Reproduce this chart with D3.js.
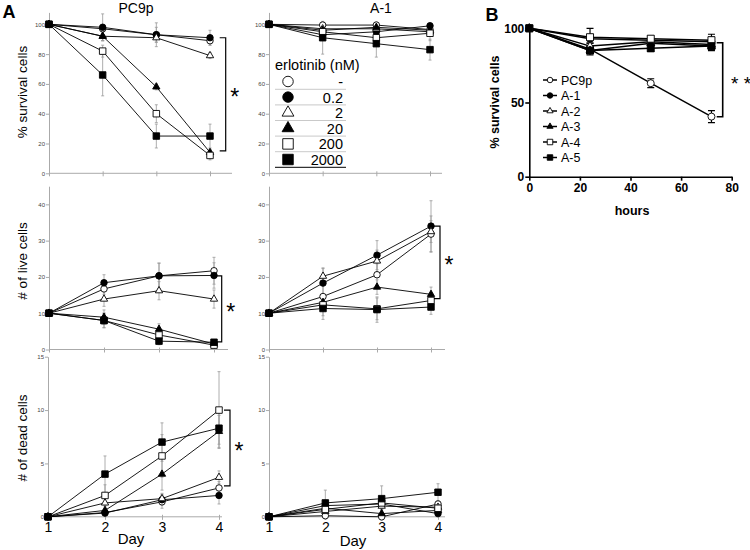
<!DOCTYPE html>
<html><head><meta charset="utf-8">
<script src="https://cdn.jsdelivr.net/npm/d3@7"></script>
<style>body{margin:0;background:#fff}svg{display:block;font-family:"Liberation Sans",Arial,Helvetica,sans-serif}</style>
</head><body><svg id="c" width="750" height="550"></svg>
<script>
// ---------- DATA ----------
const days = [1, 2, 3, 4];
const doses = ["-", "0.2", "2", "20", "200", "2000"];
// series order: -, 0.2, 2, 20, 200, 2000
const pc9pSurvival = [[100,97,93,89],[100,98,93,91],[100,92,91,79],[100,92,58,14],[100,82,40,12],[100,66,25,25]];
const pc9pSurvivalErr = [[0,3,5,3],[0,9,8,5],[0,3,3,2],[0,3,2,2],[0,4,6,3],[0,14,8,8]];
const a1Survival = [[100,99.5,99.5,96.5],[100,93,95,99],[100,97,97,95],[100,96,98,96],[100,95,91,94],[100,91,87,83]];
const a1SurvivalErr = [[0,2,2,2],[0,3,3,2],[0,2,2,2],[0,2,2,2],[0,3,3,5],[0,11,9,7]];
const pc9pLive = [[10,16.7,20.3,21.7],[10,18.4,20.3,20.4],[10,13.9,16.2,13.9],[10,8.9,5.6,1.5],[10,8,4,1.2],[10,8,2.3,2]];
const pc9pLiveErr = [[0,1.5,3.5,3.7],[0,2.2,3.5,3.5],[0,2,2.5,2.5],[0,2,1.5,0.5],[0,2,1.5,0.5],[0,2,1,0.5]];
const a1Live = [[10,14.6,20.6,31.8],[10,18.3,26,34],[10,20.2,24.4,32.5],[10,13,17.2,15.2],[10,12.3,11.2,13.5],[10,11.3,11,11.7]];
const a1LiveErr = [[0,3,3,5],[0,4,4,7],[0,2.3,3,3],[0,2,2,2],[0,3,3,2],[0,3,3.5,2]];
const pc9pDead = [[0,0.4,1.4,2.7],[0,0.35,1.6,2.0],[0,1.3,1.7,3.7],[0,0.6,4.0,8.0],[0,2.0,5.7,10.0],[0,4.0,7.0,8.3]];
const pc9pDeadErr = [[0,0.3,0.6,0.6],[0,0.3,0.5,0.8],[0,0.5,0.5,0.6],[0,0.5,1.5,1.5],[0,1,2,3.6],[0,1.7,1.8,1.5]];
const a1Dead = [[0,0.1,0.0,1.2],[0,1.05,1.2,0.3],[0,0.5,1.0,0.9],[0,0.8,0.3,0.6],[0,0.7,1.3,0.8],[0,1.3,1.7,2.3]];
const a1DeadErr = [[0,0.3,0.3,0.3],[0,0.5,0.5,0.3],[0,0.3,0.3,0.3],[0,0.3,0.3,0.3],[0,0.5,0.5,0.3],[0,1.2,1.2,0.8]];
const survTicks = [0,20,40,60,80,100];
const liveTicks = [0,10,20,30,40];
const deadTicks = [0,5,10,15];

const hours = [0, 24, 48, 72];
const lines = ["PC9p", "A-1", "A-2", "A-3", "A-4", "A-5"];
const bSurvival = [[100,86,63,40.5],[100,93,92,91],[100,88,91,89],[100,85,90,88],[100,94,93,92],[100,85,86.5,88]];
const bErr = [[0,2,3,4],[0,3,2,3],[0,2,2,2],[0,2,2,2],[0,6,2,4],[0,3,2,3]];
const hourTicks = [0,20,40,60,80];
const bYTicks = [0,50,100];

// ---------- DRAW ----------
const svg = d3.select("#c");
const FONT = '"Liberation Sans",Arial,Helvetica,sans-serif';
const shapes = [["circle",false],["circle",true],["triangle",false],["triangle",true],["square",false],["square",true]];
function sym(type, s){
  const t = type==="circle"?d3.symbolCircle:type==="triangle"?d3.symbolTriangle:d3.symbolSquare;
  const area = type==="circle"? Math.PI*(s/2)*(s/2) : type==="square"? s*s : 0.433*s*s*1.05;
  return d3.symbol().type(t).size(area)();
}
function drawMarker(g, cx, cy, idx, s){
  const [type, filled] = shapes[idx];
  g.append("path").attr("d", sym(type, type==="triangle"? s*1.1 : s))
    .attr("transform", `translate(${cx},${cy})`)
    .attr("fill", filled? "#000" : "#fff").attr("stroke", "#000").attr("stroke-width", 0.9);
}

function panelA(o){
  const x = d3.scaleLinear().domain([1,4]).range(o.xr);
  const y = d3.scaleLinear().domain(o.yd).range(o.yr);
  const g = svg.append("g");
  const ya = g.append("g").attr("transform", `translate(${o.xr[0]},0)`)
    .call(d3.axisLeft(y).tickValues(o.ticks).tickSize(3).tickSizeOuter(0).tickPadding(1));
  ya.select(".domain").attr("stroke", "#aaa");
  ya.selectAll(".tick line").attr("stroke", "#aaa");
  ya.selectAll(".tick text").attr("font-size", 6).attr("fill", "#444").attr("font-family", FONT);
  const xa = g.append("g").attr("transform", `translate(0,${y(0)})`)
    .call(d3.axisBottom(x).tickValues(days).tickSize(3).tickSizeOuter(0).tickPadding(2)
      .tickFormat(o.xLabels? d3.format("d") : () => ""));
  xa.select(".domain").remove();
  xa.selectAll(".tick line").attr("stroke", "#aaa").attr("y1", -2);
  xa.selectAll(".tick text").attr("font-size", 14).attr("fill", "#000").style("fill", "#000").attr("font-family", FONT);
  g.append("line").attr("x1", o.xr[0]).attr("x2", o.axisEnd).attr("y1", y(0)).attr("y2", y(0)).attr("stroke", "#aaa");
  // error bars
  o.vals.forEach((s, i) => s.forEach((v, j) => {
    const e = o.errs[i][j]; if (!e) return;
    const cx = x(days[j]);
    g.append("line").attr("x1", cx).attr("x2", cx).attr("y1", y(v-e)).attr("y2", y(v+e)).attr("stroke", "#999").attr("stroke-width", 0.8);
    [v-e, v+e].forEach(w => g.append("line").attr("x1", cx-1.5).attr("x2", cx+1.5).attr("y1", y(w)).attr("y2", y(w)).attr("stroke", "#999").attr("stroke-width", 0.8));
  }));
  const ln = d3.line().x((d, j) => x(days[j])).y(d => y(d));
  o.vals.forEach(s => g.append("path").attr("d", ln(s)).attr("fill", "none").attr("stroke", "#000").attr("stroke-width", 0.9));
  o.vals.forEach((s, i) => s.forEach((v, j) => drawMarker(g, x(days[j]), y(v), i, 6.5)));
  if (o.bracket){
    const b = o.bracket, y1 = y(b[0]), y2 = y(b[1]);
    g.append("path").attr("d", `M${b[2]-6},${y1}H${b[2]}V${y2}H${b[2]-6}`).attr("fill", "none").attr("stroke", "#000").attr("stroke-width", 1.2);
    g.append("text").attr("x", b[2]+9).attr("y", (y1+y2)/2+11).attr("text-anchor", "middle")
      .attr("font-size", 23).attr("font-family", FONT).text("*");
  }
  return {x, y};
}

panelA({xr:[49,210], yd:[0,108], yr:[173.3,12.4], ticks:survTicks, vals:pc9pSurvival, errs:pc9pSurvivalErr, axisEnd:232, bracket:[91,15,225.7]});
panelA({xr:[269,430], yd:[0,108], yr:[173.3,12.4], ticks:survTicks, vals:a1Survival, errs:a1SurvivalErr, axisEnd:442});
panelA({xr:[49,214], yd:[0,45], yr:[349.5,186.2], ticks:liveTicks, vals:pc9pLive, errs:pc9pLiveErr, axisEnd:228, bracket:[20.3,2.1,221.7]});
panelA({xr:[269,431], yd:[0,45], yr:[349.5,186.2], ticks:liveTicks, vals:a1Live, errs:a1LiveErr, axisEnd:445, bracket:[34,14,440]});
panelA({xr:[48,219], yd:[0,15], yr:[516.8,356.7], ticks:deadTicks, vals:pc9pDead, errs:pc9pDeadErr, axisEnd:222, xLabels:true, bracket:[10,2.9,230]});
panelA({xr:[269,438], yd:[0,15], yr:[516.8,356.7], ticks:deadTicks, vals:a1Dead, errs:a1DeadErr, axisEnd:445, xLabels:true});

// titles and labels A
const txt = (x, y, s, size, opts={}) => {
  const t = svg.append("text").attr("x", x).attr("y", y).attr("font-size", size).attr("font-family", FONT)
    .attr("text-anchor", opts.anchor || "middle").attr("font-weight", opts.bold? "bold" : "normal").text(s);
  if (opts.rot) t.attr("transform", `rotate(-90,${x},${y})`);
  return t;
};
txt(9, 18, "A", 18, {bold:true});
txt(136, 13, "PC9p", 14);
txt(381, 13, "A-1", 14);
txt(27, 92, "% survival cells", 13.5, {rot:true});
txt(27, 261, "# of live cells", 13.5, {rot:true});
txt(27, 438, "# of dead cells", 13.5, {rot:true});
txt(131, 544, "Day", 15);
txt(353, 546, "Day", 15);

// legend A
const lg = svg.append("g");
txt(275, 70, "erlotinib (nM)", 14.5, {anchor:"start"});
doses.forEach((d, i) => {
  const cy = 81.5 + i*15.6;
  drawMarker(lg, 288, cy, i, 10.5);
  txt(343, cy+5.5, d, 14.5, {anchor:"end"});
  lg.append("line").attr("x1", 275).attr("x2", 346).attr("y1", cy+7.8).attr("y2", cy+7.8)
    .attr("stroke", i===doses.length-1? "#000" : "#bbb").attr("stroke-width", i===doses.length-1? 1 : 0.8);
});

// ---------- PANEL B ----------
const bx = d3.scaleLinear().domain([0,80]).range([529.3,731.7]);
const by = d3.scaleLinear().domain([0,100]).range([176.7,28.3]);
const gb = svg.append("g");
const bya = gb.append("g").attr("transform", `translate(${bx(0)},0)`)
  .call(d3.axisLeft(by).tickValues(bYTicks).tickSize(4).tickSizeOuter(0).tickPadding(1));
const bxa = gb.append("g").attr("transform", `translate(0,${by(0)})`)
  .call(d3.axisBottom(bx).tickValues(hourTicks).tickSize(4).tickSizeOuter(0).tickPadding(3));
[bya, bxa].forEach(a => {
  a.selectAll(".domain,.tick line").attr("stroke", "#000").attr("stroke-width", 1.6);
  a.selectAll(".tick text").attr("font-size", 12).attr("font-weight", "bold").attr("fill", "#000").attr("font-family", FONT);
});
bSurvival.forEach((s, i) => s.forEach((v, j) => {
  const e = bErr[i][j]; if (!e) return;
  const cx = bx(hours[j]);
  gb.append("path").attr("d", `M${cx},${by(v-e)}V${by(v+e)}M${cx-3.5},${by(v-e)}H${cx+3.5}M${cx-3.5},${by(v+e)}H${cx+3.5}`)
    .attr("stroke", "#000").attr("stroke-width", 1.2).attr("fill", "none");
}));
const bl = d3.line().x((d, j) => bx(hours[j])).y(d => by(d));
bSurvival.forEach(s => gb.append("path").attr("d", bl(s)).attr("fill", "none").attr("stroke", "#000").attr("stroke-width", 1.5));
bSurvival.forEach((s, i) => s.forEach((v, j) => drawMarker(gb, bx(hours[j]), by(v), i, 7)));
// bracket B
{
  const y1 = by(90.3), y2 = by(40.4), xb = 722.7;
  gb.append("path").attr("d", `M${xb-6},${y1}H${xb}V${y2}H${xb-6}`).attr("fill", "none").attr("stroke", "#000").attr("stroke-width", 1.6);
  txt(741, (y1+y2)/2+10, "* *", 19);
}
// legend B
lines.forEach((n, i) => {
  const cy = 80 + i*15.5;
  gb.append("line").attr("x1", 543).attr("x2", 557).attr("y1", cy).attr("y2", cy).attr("stroke", "#000").attr("stroke-width", 1.5);
  drawMarker(gb, 550, cy, i, 5.5);
  txt(561, cy+4.5, n, 12.5, {anchor:"start"});
});
txt(492, 21, "B", 18, {bold:true});
txt(499, 102, "% survival cells", 12.5, {rot:true, bold:true});
txt(632, 215, "hours", 12.5, {bold:true});
</script></body></html>
